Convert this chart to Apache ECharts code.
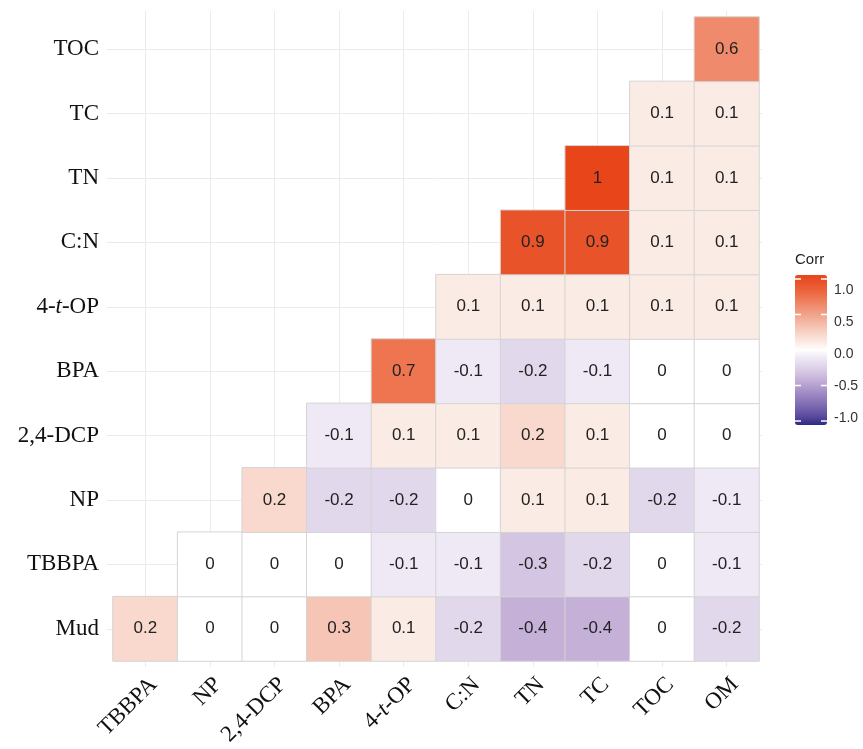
<!DOCTYPE html>
<html>
<head>
<meta charset="utf-8">
<script src="https://cdn.jsdelivr.net/npm/echarts@6/dist/echarts.min.js"></script>
<style>html,body{margin:0;padding:0;background:#fff;}#c{width:863px;height:749px;}</style>
</head>
<body>
<div id="c"></div>
<script>
// Categories
const xCategories = ['TBBPA', 'NP', '2,4-DCP', 'BPA', '4-t-OP', 'C:N', 'TN', 'TC', 'TOC', 'OM'];
const yCategories = ['Mud', 'TBBPA', 'NP', '2,4-DCP', 'BPA', '4-t-OP', 'C:N', 'TN', 'TC', 'TOC'];

// Correlation values per row (columns follow xCategories; null = blank)
const rowMud    = [0.2, 0, 0, 0.3, 0.1, -0.2, -0.4, -0.4, 0, -0.2];
const rowTBBPA  = [null, 0, 0, 0, -0.1, -0.1, -0.3, -0.2, 0, -0.1];
const rowNP     = [null, null, 0.2, -0.2, -0.2, 0, 0.1, 0.1, -0.2, -0.1];
const rowDCP    = [null, null, null, -0.1, 0.1, 0.1, 0.2, 0.1, 0, 0];
const rowBPA    = [null, null, null, null, 0.7, -0.1, -0.2, -0.1, 0, 0];
const rowOP     = [null, null, null, null, null, 0.1, 0.1, 0.1, 0.1, 0.1];
const rowCN     = [null, null, null, null, null, null, 0.9, 0.9, 0.1, 0.1];
const rowTN     = [null, null, null, null, null, null, null, 1, 0.1, 0.1];
const rowTC     = [null, null, null, null, null, null, null, null, 0.1, 0.1];
const rowTOC    = [null, null, null, null, null, null, null, null, null, 0.6];
const rows = [rowMud, rowTBBPA, rowNP, rowDCP, rowBPA, rowOP, rowCN, rowTN, rowTC, rowTOC];

// Legend ticks
const legendTicks = [1.0, 0.5, 0.0, -0.5, -1.0];

const data = [];
rows.forEach((r, yi) => r.forEach((v, xi) => { if (v !== null) data.push([xi, yi, v]); }));

const colorStops = [
  '#2B2A84', '#55469A', '#6F5DA9', '#8672B6', '#9C86C2', '#B09BCD',
  '#C5B0D8', '#D4C6E3', '#E2D8EC', '#EEE9F4', '#FFFFFF',
  '#FBEBE5', '#F9D9CD', '#F6C5B5', '#F3B19C', '#F19D84',
  '#EF8A6C', '#EE7550', '#EB623A', '#E9532A', '#E8461A'
];

const serif = 'Liberation Serif';
const sans = 'Liberation Sans';
const labelFmt = v => v === '4-t-OP' ? '4-{i|t}-OP' : v;
const axisFont = 23;
const richItalic = { i: { fontStyle: 'italic', fontFamily: serif, fontSize: axisFont, color: '#111' } };

// geometry
const gL = 113, gT = 17, gW = 646, gH = 644;
const cw = gW / xCategories.length, ch = gH / yCategories.length;

// legend geometry
const barLeft = 795, barTop = 275, barW = 32, barH = 150;
const pad = 4;
const valToY = v => barTop + pad + (1 - v) / 2 * (barH - 2 * pad);
const labelToY = v => 290 + (1 - v) / 2 * 128;

const graphics = [{
  type: 'text', left: barLeft, top: 252,
  style: { text: 'Corr', fontFamily: sans, fontSize: 15, fill: '#222' }
}];
legendTicks.forEach(t => {
  const y = valToY(t);
  graphics.push({ type: 'text', x: 834, y: labelToY(t), style: { text: t.toFixed(1), fontFamily: sans, fontSize: 14, fill: '#333', verticalAlign: 'middle' } });
  if (t !== 0) {
    graphics.push({ type: 'line', shape: { x1: barLeft, y1: y, x2: barLeft + 6, y2: y }, style: { stroke: '#fff', lineWidth: 1.5 }, z: 100 });
    graphics.push({ type: 'line', shape: { x1: barLeft + barW - 6, y1: y, x2: barLeft + barW, y2: y }, style: { stroke: '#fff', lineWidth: 1.5 }, z: 100 });
  }
});

const chart = echarts.init(document.getElementById('c'), null, { renderer: 'canvas' });
chart.setOption({
  backgroundColor: '#fff',
  animation: false,
  grid: [
    { left: gL, top: gT, width: gW, height: gH },
    { left: gL + cw / 2, top: 11, width: gW - cw, height: 656 },
    { left: 107, top: gT + ch / 2, width: 655, height: gH - ch }
  ],
  xAxis: [
    { type: 'category', gridIndex: 0, data: xCategories, axisLine: { show: false }, axisTick: { show: false }, splitLine: { show: false },
      axisLabel: { rotate: 45, margin: 12, verticalAlign: 'top', fontFamily: serif, fontSize: axisFont, color: '#111', formatter: labelFmt, rich: richItalic } },
    { type: 'category', gridIndex: 1, data: xCategories, boundaryGap: false, axisLine: { show: false }, axisTick: { show: false }, axisLabel: { show: false },
      splitLine: { show: true, lineStyle: { color: '#ebebeb', width: 1 } } },
    { type: 'value', gridIndex: 2, show: false }
  ],
  yAxis: [
    { type: 'category', gridIndex: 0, data: yCategories, axisLine: { show: false }, axisTick: { show: false }, splitLine: { show: false },
      axisLabel: { margin: 14, fontFamily: serif, fontSize: axisFont, color: '#111', formatter: labelFmt, rich: richItalic } },
    { type: 'value', gridIndex: 1, show: false },
    { type: 'category', gridIndex: 2, data: yCategories, boundaryGap: false, axisLine: { show: false }, axisTick: { show: false }, axisLabel: { show: false },
      splitLine: { show: true, lineStyle: { color: '#ebebeb', width: 1 } } }
  ],
  visualMap: {
    type: 'continuous', min: -1, max: 1, calculable: false, orient: 'vertical',
    left: barLeft, top: barTop, itemWidth: barW, itemHeight: barH, padding: 0,
    text: null, showLabel: false, hoverLink: false,
    inRange: { color: colorStops }, seriesIndex: 0
  },
  graphic: graphics,
  series: [{
    type: 'heatmap', xAxisIndex: 0, yAxisIndex: 0, data: data,
    itemStyle: { borderColor: '#d4d4d4', borderWidth: 1 },
    label: { show: true, fontFamily: sans, fontSize: 17, color: '#222', formatter: p => String(p.value[2]) },
    emphasis: { disabled: true }
  }]
});
</script>
</body>
</html>
